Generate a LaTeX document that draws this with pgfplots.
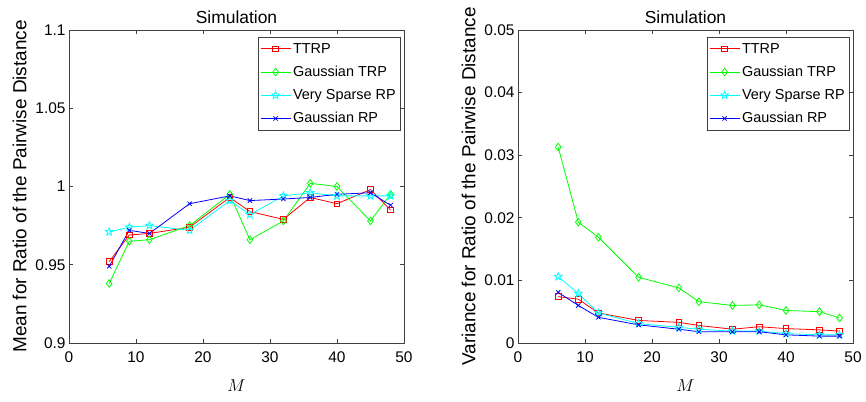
\documentclass[border=0pt]{standalone}
\usepackage{fontspec}
\setmainfont{Liberation Sans}
\usepackage{pgfplots}
\pgfplotsset{compat=1.18}
\usetikzlibrary{plotmarks}
\definecolor{mred}{rgb}{1,0,0}
\definecolor{mgreen}{rgb}{0,1,0}
\definecolor{mcyan}{rgb}{0,1,1}
\definecolor{mblue}{rgb}{0,0,1}

\pgfdeclareplotmark{pentagram}{%
  \pgfpathmoveto{\pgfpointpolar{90}{\pgfplotmarksize}}%
  \pgfpathlineto{\pgfpointpolar{126}{0.42\pgfplotmarksize}}%
  \pgfpathlineto{\pgfpointpolar{162}{\pgfplotmarksize}}%
  \pgfpathlineto{\pgfpointpolar{198}{0.42\pgfplotmarksize}}%
  \pgfpathlineto{\pgfpointpolar{234}{\pgfplotmarksize}}%
  \pgfpathlineto{\pgfpointpolar{270}{0.42\pgfplotmarksize}}%
  \pgfpathlineto{\pgfpointpolar{306}{\pgfplotmarksize}}%
  \pgfpathlineto{\pgfpointpolar{342}{0.42\pgfplotmarksize}}%
  \pgfpathlineto{\pgfpointpolar{18}{\pgfplotmarksize}}%
  \pgfpathlineto{\pgfpointpolar{54}{0.42\pgfplotmarksize}}%
  \pgfpathclose
  \pgfusepathqstroke
}

\pgfplotsset{
  mstyle/.style={
    width=335bp, height=313bp, scale only axis,
    xmin=0, xmax=50, xtick={0,10,...,50},
    scaled y ticks=false, scaled x ticks=false,
    tick align=inside,
    axis line style={draw=black!75, line width=0.6bp},
    every tick/.style={draw=black!75, line width=0.6bp},
    major tick length=4bp,
    title=Simulation,
    title style={font=\fontsize{17.5}{19}\selectfont, yshift=-3bp},
    ticklabel style={font=\fontsize{15.5}{17}\selectfont},
    xticklabel style={yshift=-5bp},
    /pgf/number format/assume math mode=true,
    xlabel={$M$},
    xlabel style={font=\fontsize{18}{19}\selectfont, yshift=-10bp},
    ylabel style={font=\fontsize{19}{21}\selectfont, yshift=2bp},
    legend style={at={(0.988,0.978)}, anchor=north east, draw=black!75,
      font=\fontsize{14.5}{16}\selectfont, cells={anchor=west},
      inner xsep=2bp, inner ysep=4bp, row sep=7.5bp},
    legend image code/.code={%
      \draw[mark repeat=2,mark phase=2] plot coordinates {(0bp,0bp) (15bp,0bp) (30bp,0bp)};},
  },
  sTTRP/.style={color=mred, line width=0.8bp, mark=square, mark size=2.8bp},
  sGTRP/.style={color=mgreen, line width=0.8bp, mark=diamond, mark size=3.8bp},
  sVSRP/.style={color=mcyan, line width=0.8bp, mark=pentagram, mark size=4bp},
  sGRP/.style={color=mblue, line width=0.8bp, mark=x, mark size=3bp},
}

\begin{document}
\begin{tikzpicture}
\begin{axis}[mstyle, at={(0,0)}, anchor=south west,
  ymin=0.9, ymax=1.1, ytick={0.9,0.95,1,1.05,1.1},
  yticklabels={0.9,0.95,1,1.05,1.1},
  ylabel={Mean for Ratio of the Pairwise Distance}]
\addplot[sTTRP] coordinates {(6,0.952) (9,0.969) (12,0.970) (18,0.974) (24,0.993) (27,0.984) (32,0.979) (36,0.993) (40,0.989) (45,0.998) (48,0.985)};
\addplot[sGTRP] coordinates {(6,0.938) (9,0.965) (12,0.966) (18,0.975) (24,0.995) (27,0.966) (32,0.978) (36,1.002) (40,1.000) (45,0.978) (48,0.995)};
\addplot[sVSRP] coordinates {(6,0.971) (9,0.974) (12,0.975) (18,0.972) (24,0.991) (27,0.982) (32,0.994) (36,0.996) (40,0.994) (45,0.994) (48,0.994)};
\addplot[sGRP] coordinates {(6,0.949) (9,0.972) (12,0.970) (18,0.989) (24,0.994) (27,0.991) (32,0.992) (36,0.993) (40,0.995) (45,0.996) (48,0.988)};
\legend{TTRP, Gaussian TRP, Very Sparse RP, Gaussian RP}
\end{axis}
\begin{axis}[mstyle, at={(449bp,0)}, anchor=south west,
  ymin=0, ymax=0.05, ytick={0,0.01,0.02,0.03,0.04,0.05},
  yticklabels={0,0.01,0.02,0.03,0.04,0.05},
  ylabel={Variance for Ratio of the Pairwise Distance}]
\addplot[sTTRP] coordinates {(6,0.0074) (9,0.0070) (12,0.0048) (18,0.0036) (24,0.0033) (27,0.0028) (32,0.0022) (36,0.0026) (40,0.0023) (45,0.0021) (48,0.0019)};
\addplot[sGTRP] coordinates {(6,0.0313) (9,0.0193) (12,0.0169) (18,0.0105) (24,0.0088) (27,0.0066) (32,0.0060) (36,0.0061) (40,0.0052) (45,0.0050) (48,0.0040)};
\addplot[sVSRP] coordinates {(6,0.0106) (9,0.0079) (12,0.0048) (18,0.0031) (24,0.0025) (27,0.0022) (32,0.0019) (36,0.0019) (40,0.0015) (45,0.0013) (48,0.0013)};
\addplot[sGRP] coordinates {(6,0.0081) (9,0.0060) (12,0.0041) (18,0.0029) (24,0.0022) (27,0.0018) (32,0.0018) (36,0.0018) (40,0.0013) (45,0.0011) (48,0.0011)};
\legend{TTRP, Gaussian TRP, Very Sparse RP, Gaussian RP}
\end{axis}
\pgfresetboundingbox
\path[use as bounding box] (-69bp,-59bp) rectangle (797bp,343bp);
\end{tikzpicture}
\end{document}
